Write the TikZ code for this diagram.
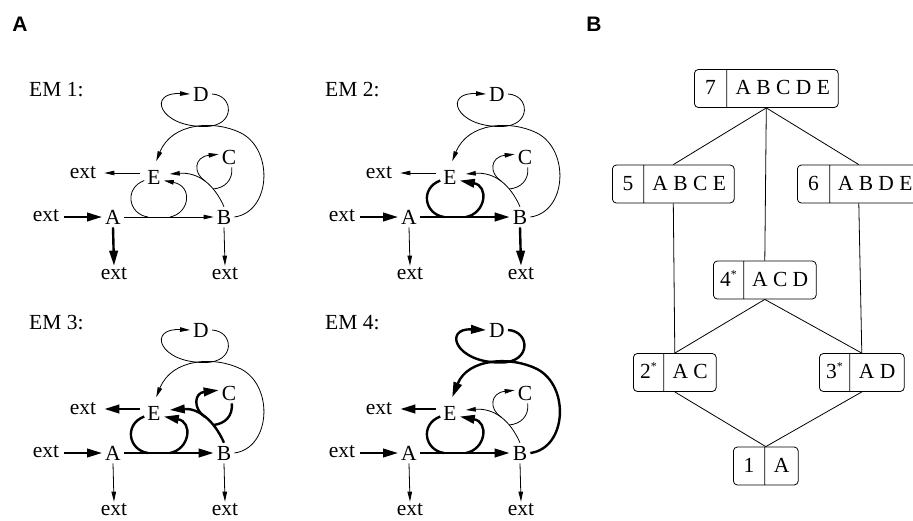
\documentclass[tikz,border=0pt]{standalone}
\usepackage{fontspec}
\setmainfont{Liberation Serif}
\setsansfont{Liberation Sans}
\usetikzlibrary{arrows.meta,shapes.multipart}

% one cell of a lattice box: fixed width, fixed height
\newcommand\cellbox[2]{\makebox[#1]{\rule[-13pt]{0pt}{38pt}#2}}
\newcommand\starred[1]{#1\raisebox{8pt}{\fontsize{12}{12}\selectfont *}}

% reaction network of one elementary mode
\newcommand\emnet{%
  \node[sp] (A) at (113,217) {A};
  \node[sp] (B) at (224,217) {B};
  \node[sp] (C) at (229,157) {C};
  \node[sp] (D) at (201,94)  {D};
  \node[sp] (E) at (154,177) {E};
  \node[ex] (xin) at (46,216)  {ext};
  \node[ex] (xe)  at (83,173)  {ext};
  \node[ex] (xa)  at (114,274) {ext};
  \node[ex] (xb)  at (225,274) {ext};
  \coordinate (abl) at (148,217);
  \coordinate (abr) at (170,217);
  \coordinate (cj1) at (205,181);
  \coordinate (cj2) at (213,189);
  % exchange fluxes
  \draw[rin,->,shorten <=3pt] (xin.east |- A.west) -- (A.west);
  \draw[raout,->] (A.south) -- (xa.north);
  \draw[rbout,->] (B.south) -- (xb.north);
  \draw[reout,->,shorten <=4.5pt,shorten >=6pt] (E.west |- xe.east) -- (xe.east);
  % A + E -> B + E
  \draw[rab,->] (A.east) -- (B.west);
  \draw[rab] (abl) .. controls (128,214) and (124,188) .. (E.200);
  \draw[rab,->] (abr) .. controls (190,213) and (193,186) .. (E.-20);
  % B + C -> E + C
  \draw[rbe,->,shorten >=6pt] (B.north) .. controls (214,184) and (198,172) .. (E.15);
  \draw[rbe,->] (cj1) .. controls (193,173) and (194,157) .. (C.165);
  \draw[rbe] (C.-75) .. controls (233,180) and (225,188) .. (cj2);
  % B + D -> E + D
  \draw[rbde,->,shorten >=6pt] (B.east) .. controls (271,212) and (274,150) .. (241,133)
        .. controls (215,120) and (172,122) .. (E.north);
  \draw[rbde,->] (D.east) .. controls (234,95) and (236,126.5) .. (205,126.5)
        .. controls (159,127) and (147,92) .. (D.west);
}

\begin{document}
\begin{tikzpicture}[x=1pt,y=-1pt,
    font=\fontsize{21.5}{25}\selectfont,
    sp/.style={inner sep=3pt},
    ex/.style={inner sep=2pt},
    weak/.style={line width=0.8pt, >={Triangle[length=10pt,width=4.5pt]}},
    strong/.style={line width=2.4pt, >={Triangle[length=15pt,width=8.5pt]}},
    rin/.style=weak, raout/.style=weak, rbout/.style=weak, reout/.style=weak,
    rab/.style=weak, rbe/.style=weak, rbde/.style=weak,
    panel/.style={font=\sffamily\bfseries\fontsize{21}{24}\selectfont},
    emlabel/.style={anchor=west, inner sep=0pt},
    setbox/.style={draw, line width=0.8pt, rounded corners=4pt,
      rectangle split, rectangle split horizontal, rectangle split parts=2,
      inner sep=0pt, anchor=west},
    link/.style={line width=0.8pt}]
\useasboundingbox (0,0) rectangle (913,520);

\node[panel] (pa) at (20,24) {A};
\node[panel] (pb) at (594,24) {B};

\node[emlabel] (l1) at (29,90)  {EM 1:};
\node[emlabel] (l2) at (325,90) {EM 2:};
\node[emlabel] (l3) at (29,323) {EM 3:};
\node[emlabel] (l4) at (325,323) {EM 4:};

\begin{scope}[name prefix=m1-, rin/.style=strong, raout/.style=strong]
  \emnet
\end{scope}
\begin{scope}[shift={(296,0)}, name prefix=m2-, rin/.style=strong, rab/.style=strong, rbout/.style=strong]
  \emnet
\end{scope}
\begin{scope}[shift={(0,236)}, name prefix=m3-, rin/.style=strong, rab/.style=strong, reout/.style=strong, rbe/.style=strong]
  \emnet
\end{scope}
\begin{scope}[shift={(296,236)}, name prefix=m4-, rin/.style=strong, rab/.style=strong, reout/.style=strong, rbde/.style=strong]
  \emnet
\end{scope}

% lattice of elementary modes
\node[setbox] (n7) at (694,88.5) {\cellbox{32pt}{7}\nodepart{two}\cellbox{111pt}{A B C D E}};
\node[setbox] (n5) at (612,184)  {\cellbox{31pt}{5}\nodepart{two}\cellbox{90pt}{A B C E}};
\node[setbox] (n6) at (797,184)  {\cellbox{32pt}{6}\nodepart{two}\cellbox{90pt}{A B D E}};
\node[setbox] (n4) at (713,280)  {\cellbox{30pt}{\starred{4}}\nodepart{two}\cellbox{72pt}{A C D}};
\node[setbox] (n2) at (633,372.5) {\cellbox{30pt}{\starred{2}}\nodepart{two}\cellbox{52pt}{A C}};
\node[setbox] (n3) at (819,372.5) {\cellbox{30pt}{\starred{3}}\nodepart{two}\cellbox{54pt}{A D}};
\node[setbox] (n1) at (733,466)  {\cellbox{31pt}{1}\nodepart{two}\cellbox{33pt}{A}};

\draw[link] (n7.south) -- (n5.north);
\draw[link] (n7.south) -- (n4.north);
\draw[link] (n7.south) -- (n6.north);
\draw[link] (n5.south) -- (n2.north);
\draw[link] (n6.south) -- (n3.north);
\draw[link] (n4.south) -- (n2.north);
\draw[link] (n4.south) -- (n3.north);
\draw[link] (n2.south) -- (n1.north);
\draw[link] (n3.south) -- (n1.north);
\end{tikzpicture}
\end{document}
